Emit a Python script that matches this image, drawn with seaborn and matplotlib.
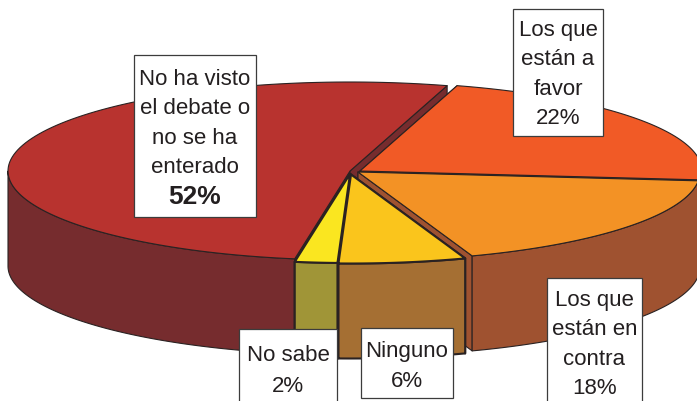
import numpy as np
import seaborn as sns
import matplotlib.pyplot as plt
from matplotlib.patches import Rectangle

# slices, clockwise from the top
labels = ['Los que\nestán a\nfavor', 'Los que\nestán en\ncontra', 'Ninguno', 'No sabe',
          'No ha visto\nel debate o\nno se ha\nenterado']
values = [22, 18, 6, 2, 52]
top_colors = ['#F15A26', '#F39225', '#FAC51C', '#FAE620', '#B8332F']
side_colors = ['#A33F1E', '#9F5230', '#A56F33', '#A09537', '#762C2E']

start_angle = 73.5
order = [4, 0, 1, 3, 2]  # back to front

# layout in pixels
centers = [(360, 172), (358, 173), (351, 175.5), (350, 175), (350, 172)]
rx, ry = 342, 89
depth = 95
boxes = [(513, 10, 90, 127), (547, 279, 95, 125), (361, 329, 92, 70), (239, 330, 98, 74), (134, 56, 122, 162)]
text_shift = [1, 3, 2.5, 4]

sns.set_theme(style='white')
plt.rcParams['font.family'] = ['Liberation Sans', 'DejaVu Sans']

fig = plt.figure(figsize=(6.97, 4.02), dpi=100)
ax = fig.add_axes([0, 0, 1, 1])
ax.set_xlim(0, 697)
ax.set_ylim(402, 0)
ax.axis('off')

edges = start_angle - np.cumsum([0] + values) * 3.6


def rim(center, a, b):
    t = np.radians(np.linspace(a, b, 120))
    return center[0] + rx * np.cos(t), center[1] - ry * np.sin(t)


def draw_slice(i):
    c = centers[i]
    a, b = edges[i], edges[i + 1]
    x, y = rim(c, a, b)
    line = 1.5 if i in (2, 3) else 0.8
    style = dict(edgecolor='#2a2222', linewidth=line, joinstyle='round')
    # radial walls
    for k in (0, -1):
        ax.fill([c[0], x[k], x[k], c[0]], [c[1], y[k], y[k] + depth, c[1] + depth],
                facecolor=side_colors[i], **style)
    # outer wall, only the half that faces the viewer
    hi, lo = min(a, 0), max(b, -180)
    if hi > lo:
        fx, fy = rim(c, hi, lo)
        ax.fill(np.r_[fx, fx[::-1]], np.r_[fy, fy[::-1] + depth], facecolor=side_colors[i], **style)
    # top face
    ax.fill(np.r_[c[0], x], np.r_[c[1], y], facecolor=top_colors[i], **style)


for i in order:
    draw_slice(i)

for i, (bx, by, bw, bh) in enumerate(boxes):
    ax.add_patch(Rectangle((bx, by), bw, bh, facecolor='white', edgecolor='#3c3c3c', linewidth=0.9, zorder=5))
    cx = bx + bw / 2
    if i == 4:
        ax.text(cx, by + 13, labels[i], ha='center', va='top', fontsize=16, color='#231F20',
                linespacing=1.53, zorder=6)
        ax.text(cx, by + 141, f'{values[i]}%', ha='center', va='center', fontsize=19, fontweight='bold',
                color='#231F20', zorder=6)
    else:
        ax.text(cx, by + bh / 2 + text_shift[i], f'{labels[i]}\n{values[i]}%', ha='center', va='center',
                fontsize=16, color='#231F20', linespacing=1.58 if i >= 2 else 1.53, zorder=6)

fig.savefig('out.png', dpi=100)
